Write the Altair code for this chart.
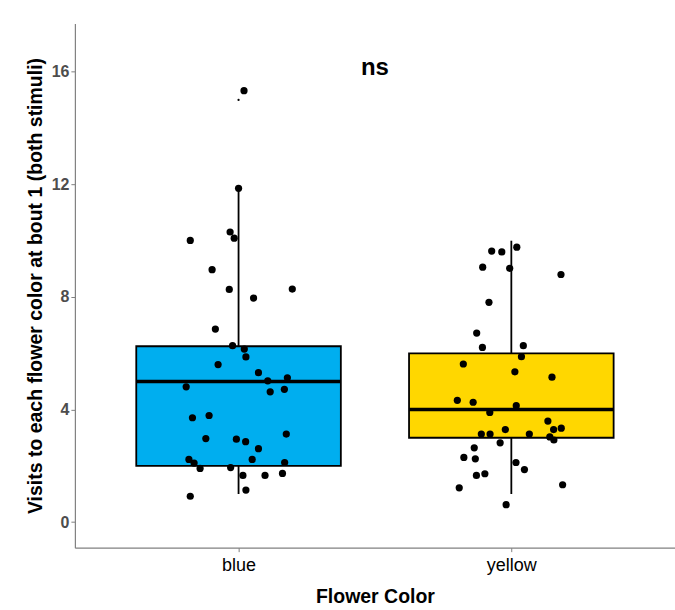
import altair as alt
import pandas as pd

categories = ["blue", "yellow"]
fill_colors = ["#00AEEF", "#FFD700"]

# box summary per category
q1 = [2.0, 3.0]
median = [5.0, 4.0]
q3 = [6.25, 6.0]
whisker_lo = [1.0, 1.0]
whisker_hi = [11.85, 10.0]

outlier_cat = ["blue"]
outlier_val = [15.0]

# jittered points (value as drawn, horizontal jitter in category units)
blue_y = [15.33, 11.86, 10.31, 10.09, 10.01, 8.97, 8.27, 8.28, 7.96, 6.86,
          6.27, 6.15, 5.87, 5.60, 5.31, 5.02, 5.13, 4.81, 4.63, 4.72,
          3.71, 3.79, 2.97, 2.95, 2.86, 3.13, 2.61, 2.23, 2.23, 2.10,
          1.91, 1.94, 2.12, 1.66, 1.66, 1.73, 1.14, 0.92]
blue_jit = [0.020, 0.000, -0.031, -0.016, -0.177, -0.097, -0.034, 0.197, 0.055, -0.085,
            -0.022, 0.021, 0.027, -0.075, 0.073, 0.107, 0.179, -0.192, 0.116, 0.168,
            -0.169, -0.108, -0.120, -0.008, 0.026, 0.175, 0.073, 0.050, -0.182, -0.163,
            -0.141, -0.029, 0.169, 0.016, 0.097, 0.161, 0.027, -0.177]
yellow_y = [9.77, 9.63, 9.60, 9.06, 9.02, 8.80, 7.81, 6.72, 6.21, 6.27,
            5.88, 5.62, 5.34, 5.15, 4.33, 4.26, 4.14, 3.90, 3.59, 3.29,
            3.34, 3.29, 3.13, 3.13, 3.13, 3.03, 2.92, 2.82, 2.64, 2.30,
            2.25, 2.12, 1.87, 1.66, 1.72, 1.22, 1.33, 0.62]
yellow_jit = [0.020, -0.072, -0.035, -0.105, -0.006, 0.182, -0.082, -0.127, -0.106, 0.044,
              0.037, -0.176, 0.013, 0.149, -0.198, -0.140, 0.018, -0.079, 0.134, 0.155,
              0.183, -0.022, -0.110, -0.078, 0.066, 0.141, 0.156, -0.041, -0.136, -0.174,
              -0.132, 0.017, 0.048, -0.128, -0.097, -0.191, 0.188, -0.019]

box_width = 0.75

pos = {c: i + 1 for i, c in enumerate(categories)}

box_df = pd.DataFrame({
    "cat": categories,
    "pos": [pos[c] for c in categories],
    "q1": q1, "median": median, "q3": q3,
    "lo": whisker_lo, "hi": whisker_hi,
})
box_df["xmin"] = box_df["pos"] - box_width / 2
box_df["xmax"] = box_df["pos"] + box_width / 2

pts_df = pd.DataFrame({
    "cat": ["blue"] * len(blue_y) + ["yellow"] * len(yellow_y),
    "value": blue_y + yellow_y,
    "jit": blue_jit + yellow_jit,
})
pts_df["x"] = pts_df["cat"].map(pos) + pts_df["jit"]

out_df = pd.DataFrame({"cat": outlier_cat, "value": outlier_val})
out_df["x"] = out_df["cat"].map(pos)

ann_df = pd.DataFrame({"x": [1.5], "y": [15.9], "label": ["ns"]})

label_expr = "[" + ",".join("'" + c + "'" for c in categories) + "][datum.value - 1]"

xscale = alt.Scale(domain=[0.4, 2.6], nice=False, zero=False)
yscale = alt.Scale(domain=[-0.905, 17.72], nice=False, zero=False)

FONT = "Liberation Sans"

x_axis = alt.Axis(values=[1, 2], labelExpr=label_expr, title="Flower Color",
                  labelFontSize=18, labelFontWeight="normal", labelColor="black",
                  labelPadding=5, titleFontSize=19.5, titlePadding=13)
y_axis = alt.Axis(values=[0, 4, 8, 12, 16], title="Visits to each flower color at bout 1 (both stimuli)",
                  labelFontSize=16, labelFontWeight="bold", labelColor="#4d4d4d",
                  labelPadding=2, titleFontSize=19.5, titlePadding=6)

whisk = alt.Chart(box_df).mark_rule(color="black", strokeWidth=1.8).encode(
    x=alt.X("pos:Q", scale=xscale, axis=x_axis),
    y=alt.Y("lo:Q", scale=yscale, axis=y_axis),
    y2="hi:Q",
)

boxes = alt.Chart(box_df).mark_rect(stroke="black", strokeWidth=1.8).encode(
    x="xmin:Q", x2="xmax:Q",
    y="q1:Q", y2="q3:Q",
    fill=alt.Fill("cat:N", scale=alt.Scale(domain=categories, range=fill_colors), legend=None),
)

med = alt.Chart(box_df).mark_rule(color="black", strokeWidth=3.5).encode(
    x="xmin:Q", x2="xmax:Q", y="median:Q",
)

outl = alt.Chart(out_df).mark_circle(color="black", opacity=1, size=5).encode(
    x="x:Q", y="value:Q",
)

pts = alt.Chart(pts_df).mark_circle(color="black", opacity=1, size=52).encode(
    x="x:Q", y="value:Q",
)

ann = alt.Chart(ann_df).mark_text(font=FONT, fontSize=24, fontWeight="bold",
                                  color="black", baseline="alphabetic", align="center").encode(
    x="x:Q", y="y:Q", text="label:N",
)

chart = alt.layer(whisk, boxes, med, outl, pts, ann).properties(
    width=601, height=525,
    autosize=alt.AutoSizeParams(type="none"),
    padding={"left": 75, "top": 23, "right": 0, "bottom": 62},
    background="white",
).configure_view(stroke=None).configure_axis(
    grid=False,
    domainColor="#808080", domainWidth=1.2,
    tickColor="#808080", tickSize=4, tickWidth=1,
    labelFont=FONT, titleFont=FONT, titleFontWeight="bold", titleColor="black",
)

chart.save("out.html", embed_options={"renderer": "svg", "actions": False})
